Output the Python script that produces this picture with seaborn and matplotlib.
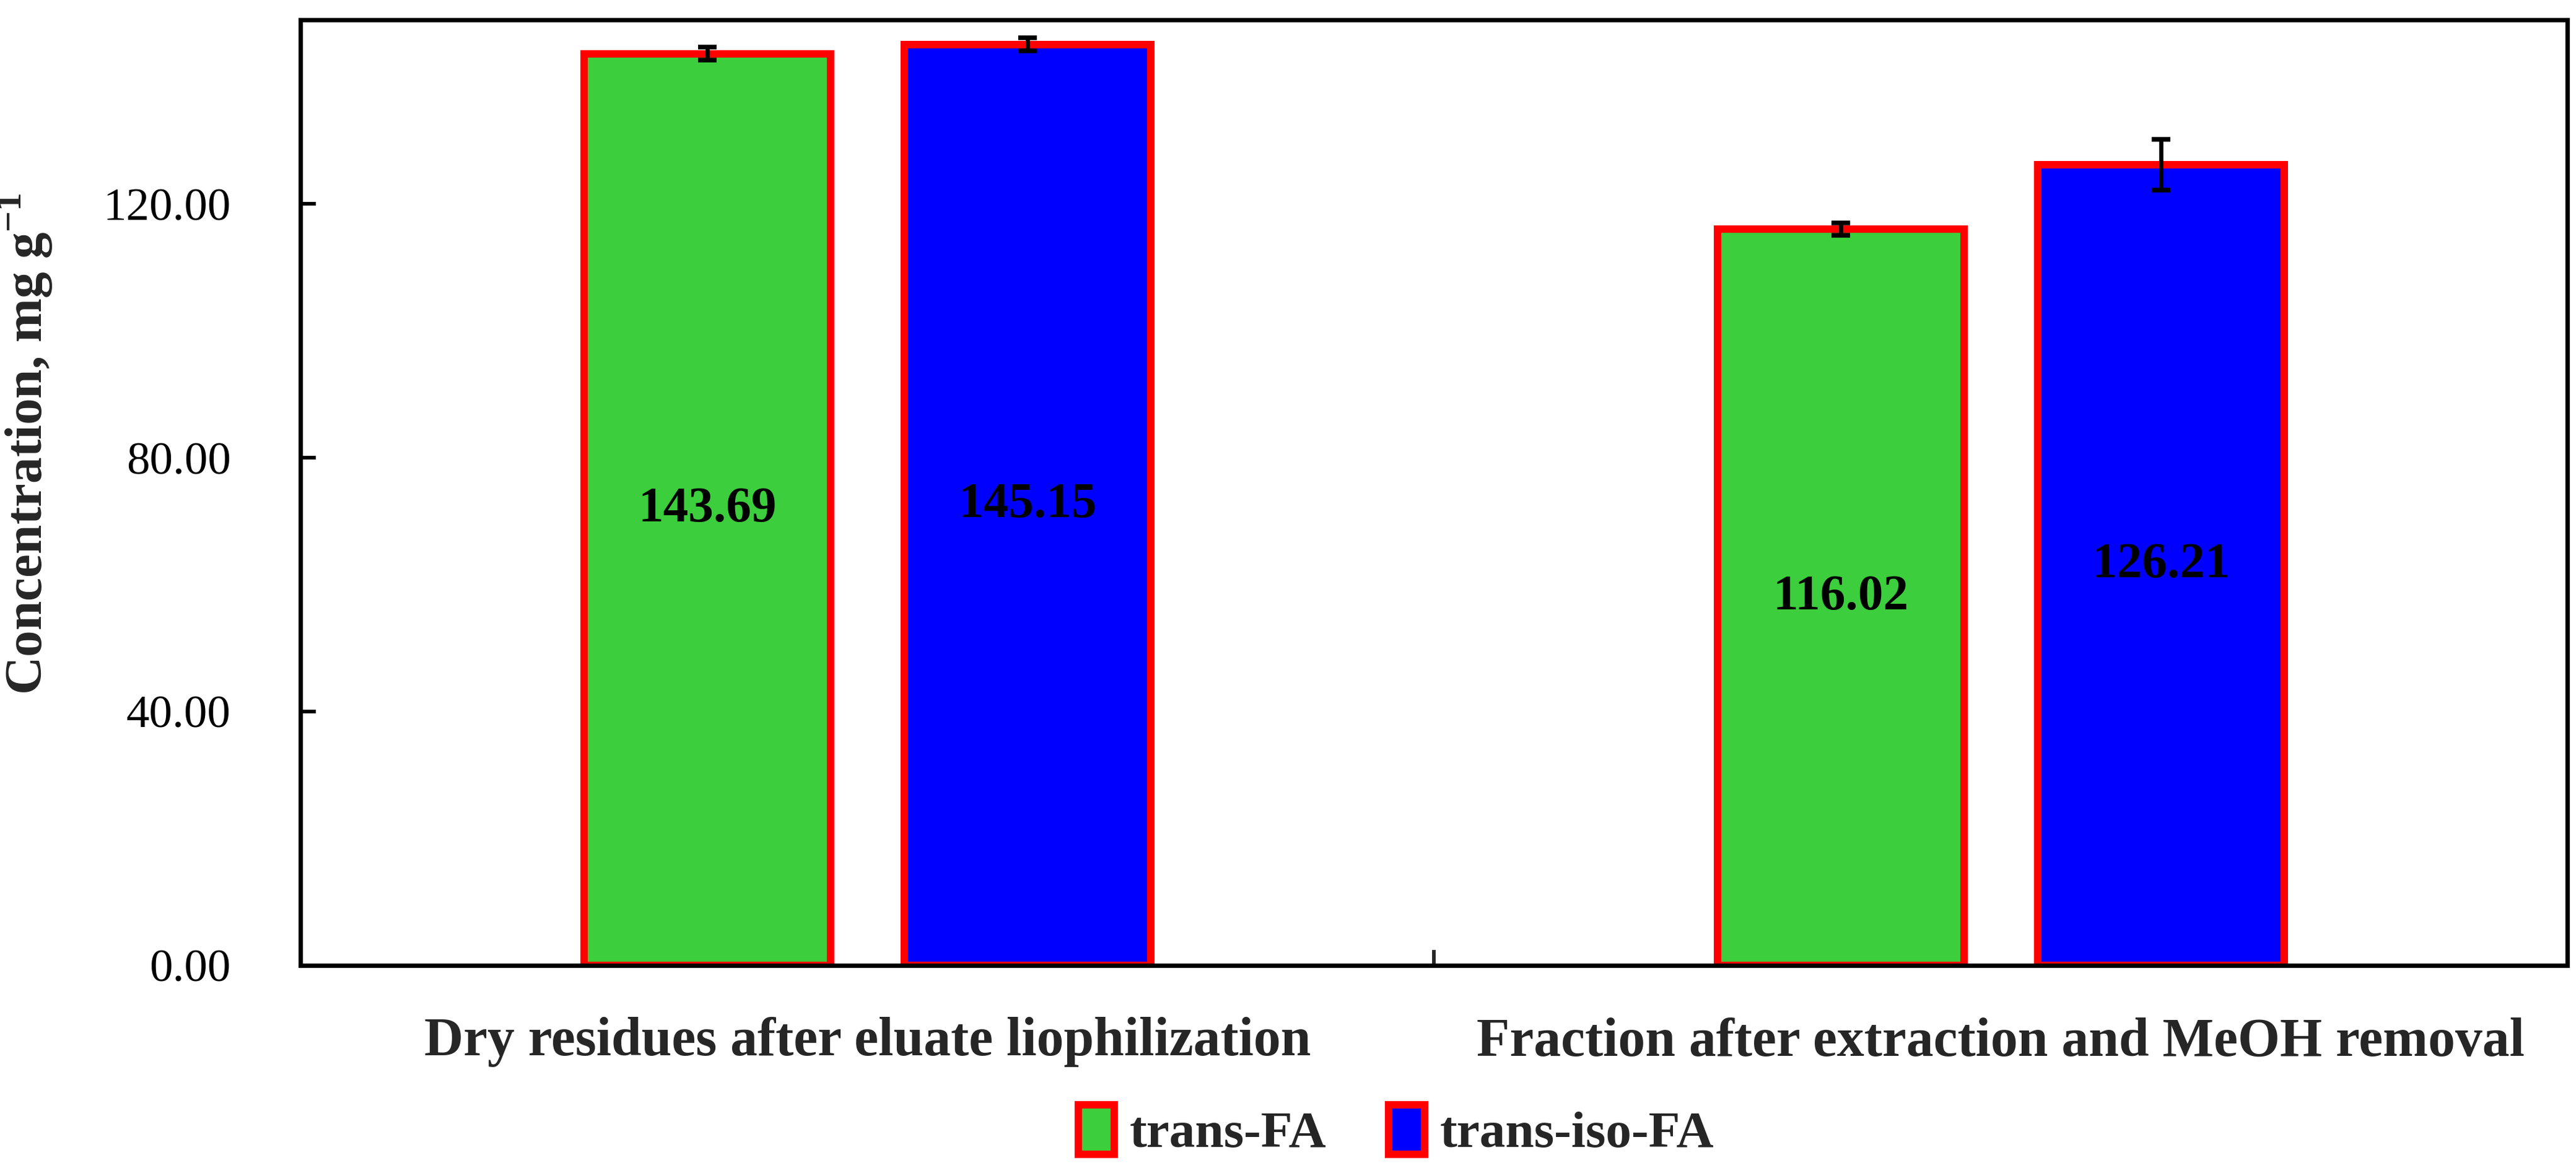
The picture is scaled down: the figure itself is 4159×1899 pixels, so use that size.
import pandas as pd
import numpy as np
import matplotlib
matplotlib.use('Agg')
import matplotlib.pyplot as plt
from matplotlib.patches import Patch
from matplotlib.ticker import FormatStrFormatter, FixedLocator
import seaborn as sns

fractions = ['Dry residues after eluate liophilization', 'Fraction after extraction and MeOH removal']
compounds = ['trans-FA', 'trans-iso-FA']
trans_fa = [143.69, 116.02]
trans_fa_err = [1.0, 1.0]
trans_iso_fa = [145.15, 126.21]
trans_iso_fa_err = [1.0, 4.0]
y_ticks = [0, 40, 80, 120]

colors = {'trans-FA': '#3CCE3C', 'trans-iso-FA': '#0000FF'}

df = pd.DataFrame({
    'Fraction': fractions * 2,
    'Compound': [compounds[0]] * 2 + [compounds[1]] * 2,
    'Value': trans_fa + trans_iso_fa,
})
errs = {compounds[0]: trans_fa_err, compounds[1]: trans_iso_fa_err}

sns.set_style('white')
plt.rcParams['font.family'] = ['Liberation Serif', 'DejaVu Serif']
plt.rcParams['mathtext.fontset'] = 'custom'
plt.rcParams['mathtext.rm'] = 'Liberation Serif'
plt.rcParams['mathtext.bf'] = 'Liberation Serif:bold'

fig, ax = plt.subplots(figsize=(4159 / 300, 1899 / 300), dpi=300)
fig.subplots_adjust(left=0.1167, right=0.9967, bottom=0.179, top=0.983)

sns.barplot(data=df, x='Fraction', y='Value', hue='Compound', order=fractions,
            hue_order=compounds, palette=colors, saturation=1, width=0.565, gap=0.23,
            errorbar=None, edgecolor='#FF0000', linewidth=2.9, legend=False, ax=ax)

# error bars and value labels per series
for cont, comp in zip(ax.containers, compounds):
    xs = [p.get_x() + p.get_width() / 2 for p in cont]
    ys = [p.get_height() for p in cont]
    ax.errorbar(xs, ys, yerr=errs[comp], fmt='none', ecolor='black',
                elinewidth=1.6, capsize=3.7, capthick=1.8, zorder=5)
    ax.bar_label(cont, labels=[f'{v:.2f}' for v in ys], label_type='center',
                 fontsize=19.5, fontweight='bold', color='black')

ax.set_xlim(-0.5, 1.5)
ax.set_ylim(0, 149)
ax.set_yticks(y_ticks)
ax.yaxis.set_major_formatter(FormatStrFormatter('%.2f'))
ax.xaxis.set_minor_locator(FixedLocator([0.5]))

ax.tick_params(axis='y', which='major', direction='in', length=6, width=1.4,
               labelsize=18, pad=27, left=True, colors='black')
ax.tick_params(axis='x', which='major', length=0, pad=20, labelsize=21)
ax.tick_params(axis='x', which='minor', direction='in', length=6, width=1.4, bottom=True)
for lbl in ax.get_xticklabels():
    lbl.set_fontweight('bold')

for sp in ax.spines.values():
    sp.set_visible(True)
    sp.set_color('black')
    sp.set_linewidth(1.7)

ax.set_xlabel('')
ax.set_ylabel(r'Concentration, mg g$^{\mathbf{-1}}$', fontsize=20.5, fontweight='bold')
ax.yaxis.set_label_coords(-0.1085, 0.552)

handles = [Patch(facecolor=colors[c], edgecolor='#FF0000', linewidth=2.9, label=c) for c in compounds]
fig.legend(handles=handles, loc='center', bbox_to_anchor=(0.542, 0.038), ncol=2,
           frameon=False, handlelength=0.7, handleheight=1.1, handletextpad=0.3,
           columnspacing=1.2, prop={'weight': 'bold', 'size': 20})

fig.savefig('out.png', dpi=300)
